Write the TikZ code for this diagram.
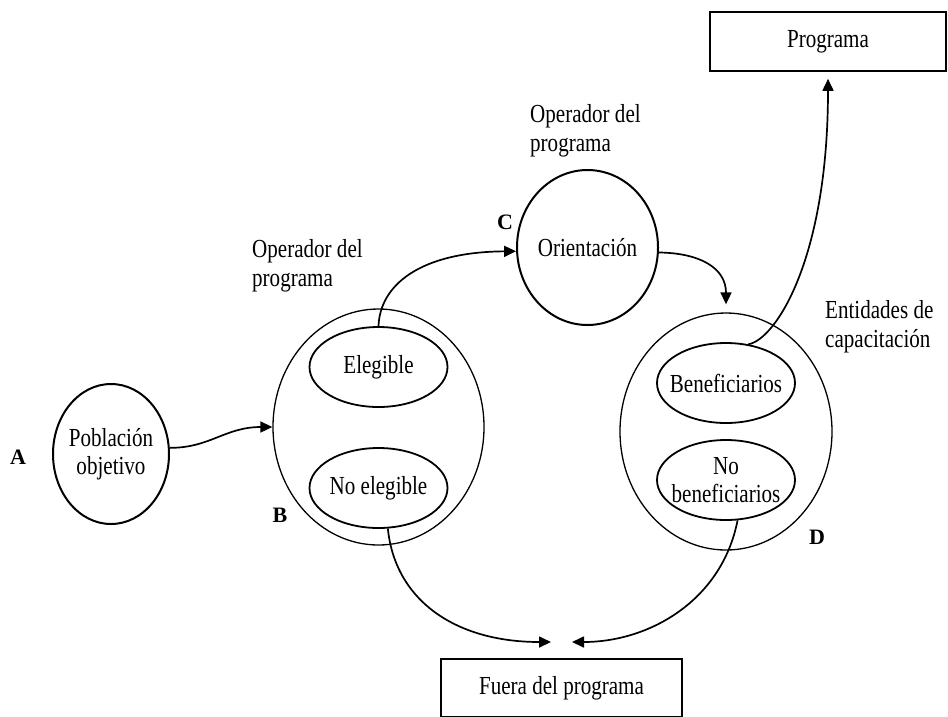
\documentclass[tikz,border=0pt]{standalone}
\usepackage{fontspec}
\setmainfont[FakeStretch=0.81]{Liberation Serif}
\newfontfamily\lblfont{Liberation Serif}
\usetikzlibrary{shapes.geometric,arrows.meta}
\begin{document}
\begin{tikzpicture}[x=1pt,y=-1pt,
  every node/.style={inner sep=0pt, font=\fontsize{26}{29}\selectfont},
  txt/.style={align=center, font=\fontsize{26}{28}\selectfont},
  thickell/.style={draw, ellipse, line width=2pt},
  innerell/.style={draw, ellipse, line width=1.8pt, minimum width=138pt, minimum height=80pt},
  outerell/.style={draw, ellipse, line width=1.3pt},
  boxnode/.style={draw, rectangle, line width=1.6pt},
  lbl/.style={font=\lblfont\bfseries\fontsize{22}{26}\selectfont},
  note/.style={align=left, anchor=west},
  arr/.style={line width=1.7pt, -{Triangle[length=12pt,width=11pt]}}
]
\clip (0,0) rectangle (948,716);

% A
\node[thickell, minimum width=116pt, minimum height=140pt,
      label={[txt]center:Población\\objetivo}] (A) at (111,454) {};
% B
\node[outerell, minimum width=211pt, minimum height=236pt] (B) at (378.5,427) {};
\node[innerell, label={[txt]center:Elegible}] (el) at (378.5,367) {};
\node[innerell, label={[txt]center:No elegible}] (noel) at (378.5,488) {};
% C
\node[thickell, minimum width=141pt, minimum height=155pt,
      label={[txt]center:Orientación}] (C) at (587.5,247.5) {};
% D
\node[outerell, minimum width=212pt, minimum height=237pt] (D) at (726,431.5) {};
\node[innerell, label={[txt]center:Beneficiarios}] (ben) at (726,383) {};
\node[innerell, label={[txt]center:No\\beneficiarios}] (noben) at (726,480) {};
% boxes
\node[boxnode, minimum width=236pt, minimum height=59pt] (prog) at (828,41.5) {Programa};
\node[boxnode, minimum width=241pt, minimum height=58pt] (fuera) at (561.5,688) {Fuera del programa};

% letters
\node[lbl] (la) at (18,457) {A};
\node[lbl] (lb) at (280,515) {B};
\node[lbl] (lc) at (505,222) {C};
\node[lbl] (ld) at (817,537) {D};

% notes
\node[note] (opb) at (252,266) {Operador del\\programa};
\node[note] (opc) at (530,131) {Operador del\\programa};
\node[note] (ent) at (825,327) {Entidades de\\capacitación};

% free ends
\coordinate (f1) at (551,642);
\coordinate (f2) at (572,642);

% connectors
\draw[arr] (A.6) .. controls (210,448) and (225,427) .. (B.west);
\draw[arr] (el.north) .. controls (380,285) and (420,252) .. (C.183);
\draw[arr, shorten >=8pt] (C.-4) .. controls (700,253) and (726,268) .. (D.north);
\draw[arr, shorten >=7pt] (ben.60) .. controls (775,340) and (828,260) .. (prog.south);
\draw[arr] (noel.-77) .. controls (395,600) and (455,642) .. (f1);
\draw[arr] (noben.-74) .. controls (722,600) and (650,642) .. (f2);
\end{tikzpicture}
\end{document}
